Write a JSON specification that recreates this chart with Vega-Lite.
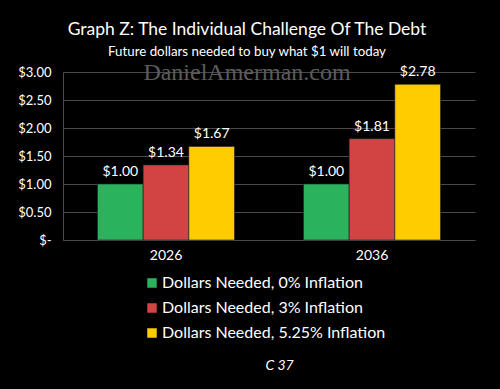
{
  "$schema": "https://vega.github.io/schema/vega-lite/v6.json",
  "width": 412,
  "height": 168,
  "autosize": "none",
  "padding": {"left": 63, "top": 72, "right": 25, "bottom": 149},
  "background": "black",
  "config": {"view": {"stroke": null}, "font": "Lato"},
  "title": {
    "text": "Graph Z: The Individual Challenge Of The Debt",
    "subtitle": "Future dollars needed to buy what $1 will today",
    "color": "white",
    "subtitleColor": "white",
    "fontSize": 17.5,
    "subtitleFontSize": 13.3,
    "fontWeight": "normal",
    "anchor": "middle",
    "dx": -22,
    "offset": 3,
    "subtitlePadding": 6
  },
  "data": {
    "values": [
      {"year": "2026", "series": "Dollars Needed, 0% Inflation", "value": 1.00},
      {"year": "2026", "series": "Dollars Needed, 3% Inflation", "value": 1.34},
      {"year": "2026", "series": "Dollars Needed, 5.25% Inflation", "value": 1.67},
      {"year": "2036", "series": "Dollars Needed, 0% Inflation", "value": 1.00},
      {"year": "2036", "series": "Dollars Needed, 3% Inflation", "value": 1.81},
      {"year": "2036", "series": "Dollars Needed, 5.25% Inflation", "value": 2.78}
    ]
  },
  "encoding": {
    "x": {
      "field": "year",
      "type": "nominal",
      "scale": {"paddingInner": 0.335, "paddingOuter": 0.1675},
      "axis": {
        "labelAngle": 0,
        "labelColor": "white",
        "labelFontSize": 14,
        "labelPadding": 8,
        "ticks": false,
        "domainColor": "#4a4a4a",
        "title": "C 37",
        "titleColor": "white",
        "titleFontSize": 14,
        "titleFontWeight": "normal",
        "titleFontStyle": "italic",
        "titlePadding": 96,
        "titleX": 216
      }
    },
    "xOffset": {"field": "series", "type": "nominal", "scale": {"paddingInner": 0, "paddingOuter": 0}},
    "y": {
      "field": "value",
      "type": "quantitative",
      "scale": {"domain": [0, 3]},
      "axis": {
        "title": null,
        "values": [0, 0.5, 1, 1.5, 2, 2.5, 3],
        "labelExpr": "datum.value === 0 ? '$-      ' : format(datum.value, '$.2f')",
        "labelColor": "white",
        "labelFontSize": 13,
        "labelPadding": 12,
        "ticks": false,
        "gridColor": "#4a4a4a",
        "domainColor": "#4a4a4a"
      }
    }
  },
  "layer": [
    {
      "mark": {"type": "bar", "strokeWidth": 1, "strokeOpacity": 0.6, "stroke": "#222"},
      "encoding": {
        "color": {
          "field": "series",
          "type": "nominal",
          "scale": {"range": ["#2ab35c", "#d24444", "#ffcc00"]},
          "legend": {
            "orient": "none",
            "legendX": 81,
            "legendY": 203,
            "direction": "vertical",
            "title": null,
            "symbolType": "square",
            "symbolSize": 90,
            "symbolStrokeWidth": 0,
            "symbolOpacity": 1,
            "labelColor": "white",
            "labelFontSize": 16,
            "labelLimit": 0,
            "labelOffset": 2,
            "rowPadding": 9
          }
        }
      }
    },
    {
      "mark": {"type": "text", "color": "white", "fontSize": 14, "baseline": "alphabetic", "dy": -8},
      "encoding": {
        "text": {"field": "value", "type": "quantitative", "format": "$.2f"}
      }
    },
    {
      "data": {"values": [{"t": "DanielAmerman.com", "v": 3}]},
      "mark": {"type": "text", "font": "Liberation Serif", "fontSize": 24, "color": "#5c5c5c", "baseline": "alphabetic", "dx": -22, "dy": 8},
      "encoding": {
        "x": null,
        "xOffset": null,
        "y": {"field": "v", "type": "quantitative"},
        "text": {"field": "t", "type": "nominal"}
      }
    }
  ]
}
